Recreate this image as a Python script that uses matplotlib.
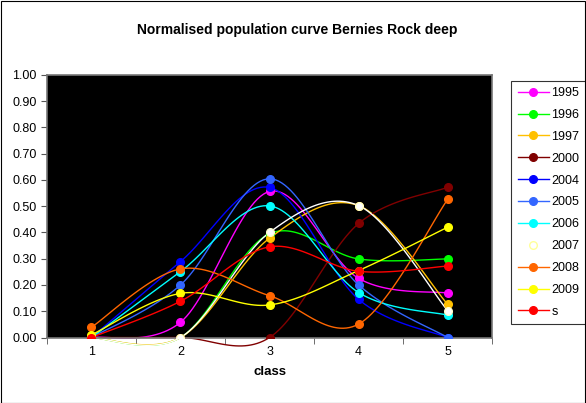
import numpy as np
import matplotlib
matplotlib.use("Agg")
import matplotlib.pyplot as plt
from matplotlib.patches import Rectangle

plt.rcParams['font.family'] = ['Liberation Sans', 'DejaVu Sans']

# classes on the x axis
classes = [1, 2, 3, 4, 5]

# normalised values per series
y1995 = [0.00, 0.058, 0.556, 0.225, 0.169]
y1996 = [0.00, 0.00, 0.395, 0.299, 0.299]
y1997 = [0.00, 0.00, 0.378, 0.502, 0.126]
y2000 = [0.00, 0.00, 0.00, 0.434, 0.572]
y2004 = [0.00, 0.289, 0.571, 0.145, 0.00]
y2005 = [0.00, 0.200, 0.604, 0.200, 0.00]
y2006 = [0.00, 0.251, 0.501, 0.171, 0.085]
y2007 = [0.00, 0.00, 0.400, 0.502, 0.102]
y2008 = [0.039, 0.261, 0.159, 0.051, 0.526]
y2009 = [0.010, 0.168, 0.124, 0.255, 0.420]
ys = [0.00, 0.138, 0.345, 0.252, 0.272]

names = ["1995", "1996", "1997", "2000", "2004", "2005", "2006", "2007", "2008", "2009", "s"]
series = [y1995, y1996, y1997, y2000, y2004, y2005, y2006, y2007, y2008, y2009, ys]
colours = ["#ff00ff", "#00ff00", "#ffc000", "#800000", "#0000ff", "#3366ff",
           "#00ffff", "#ffffff", "#ff6600", "#ffff00", "#ff0000"]


def smooth(x, y, n=30):
    # excel-like smoothed line: bezier segments from neighbouring points
    x = np.asarray(x, float)
    y = np.asarray(y, float)
    px = np.concatenate(([x[0]], x, [x[-1]]))
    py = np.concatenate(([y[0]], y, [y[-1]]))
    t = np.linspace(0, 1, n)
    xs, yy = [], []
    for i in range(len(x) - 1):
        p0 = np.array([px[i + 1], py[i + 1]])
        p3 = np.array([px[i + 2], py[i + 2]])
        p1 = p0 + (np.array([px[i + 2], py[i + 2]]) - np.array([px[i], py[i]])) / 6
        p2 = p3 - (np.array([px[i + 3], py[i + 3]]) - np.array([px[i + 1], py[i + 1]])) / 6
        b = (np.outer((1 - t) ** 3, p0) + np.outer(3 * (1 - t) ** 2 * t, p1)
             + np.outer(3 * (1 - t) * t ** 2, p2) + np.outer(t ** 3, p3))
        xs.extend(b[:, 0])
        yy.extend(b[:, 1])
    return xs, yy


fig = plt.figure(figsize=(5.86, 4.03), dpi=100)
fig.patches.append(Rectangle((0.001, 0.001), 0.997, 0.997, transform=fig.transFigure,
                             fill=False, edgecolor="black", linewidth=0.8))
ax = fig.add_axes([0.080, 0.1625, 0.760, 0.652])
ax.set_facecolor("black")

for name, vals, c in zip(names, series, colours):
    sx, sy = smooth(classes, vals)
    ax.plot(sx, sy, color=c, linewidth=1.0, clip_on=False, zorder=2)
    if name == "2007":
        ax.plot(classes, vals, linestyle="none", marker="o", markersize=5.5,
                markerfacecolor="white", markeredgecolor="#ffffcc", zorder=3)
        ax.plot([], [], linestyle="none", marker="o", markersize=5.5,
                markerfacecolor="white", markeredgecolor="#ffff99", label=name)
    else:
        ax.plot(classes, vals, linestyle="none", marker="o", markersize=5.5,
                color=c, zorder=3)
        ax.plot([], [], color=c, linewidth=1.0, marker="o", markersize=5.5, label=name)

ax.set_xlim(0.5, 5.5)
ax.set_ylim(0, 1)
ax.set_yticks(np.arange(0, 1.01, 0.1))
ax.set_yticklabels(["%.2f" % v for v in np.arange(0, 1.01, 0.1)], fontsize=9)
ax.set_xticks(classes)
ax.set_xticklabels([str(c) for c in classes], fontsize=9)
ax.set_xticks(np.arange(0.5, 5.6, 1), minor=True)
ax.tick_params(axis="x", which="major", length=0, pad=6)
ax.tick_params(axis="x", which="minor", length=4, color="#555555")
ax.tick_params(axis="y", length=4, color="#555555")
for sp in ax.spines.values():
    sp.set_color("#777777")
    sp.set_linewidth(1.2)

ax.set_xlabel("class", fontsize=9.5, fontweight="bold", labelpad=6)
fig.text(0.507, 0.925, "Normalised population curve Bernies Rock deep",
         ha="center", va="center", fontsize=10, fontweight="bold")

leg = ax.legend(loc="upper left", bbox_to_anchor=(1.043, 0.977), fontsize=9,
                frameon=True, fancybox=False, edgecolor="black",
                handlelength=2.5, labelspacing=0.79, borderpad=0.5,
                handletextpad=0.2, borderaxespad=0)
leg.get_frame().set_linewidth(0.8)

fig.savefig("out.png", dpi=100)
